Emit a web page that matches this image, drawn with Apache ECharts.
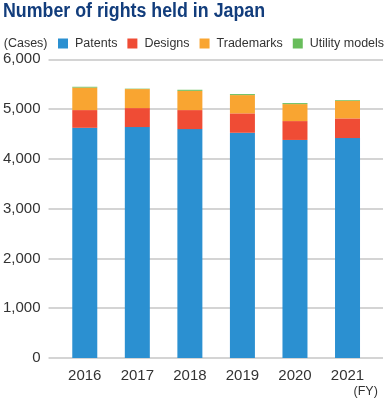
<!DOCTYPE html>
<html>
<head>
<meta charset="utf-8">
<script src="https://cdn.jsdelivr.net/npm/echarts@6/dist/echarts.min.js"></script>
<style>
html,body{margin:0;padding:0;background:#fff;}
#c{width:387px;height:399px;}
</style>
</head>
<body>
<div id="c"></div>
<script>
var years = ['2016', '2017', '2018', '2019', '2020', '2021'];
var patents = [4624, 4639, 4598, 4524, 4380, 4418];
var designs = [356, 381, 382, 390, 379, 395];
var trademarks = [452, 382, 387, 367, 341, 354];
var utilityModels = [16, 8, 21, 20, 20, 14];
var seriesNames = ['Patents', 'Designs', 'Trademarks', 'Utility models'];
var colors = ['#2b90d1', '#ef4c35', '#f9a531', '#68bd5b'];
var titleText = 'Number of rights held in Japan';

var font = 'Liberation Sans, Arial, sans-serif';
var chart = echarts.init(document.getElementById('c'), null, {renderer: 'canvas'});
var dataSets = [patents, designs, trademarks, utilityModels];

var option = {
  animation: false,
  graphic: [{
    type: 'text',
    left: 3,
    top: 1,
    scaleX: 0.89,
    style: {
      text: titleText,
      fontFamily: font,
      fontWeight: 'bold',
      fontSize: 20,
      fill: '#123d7c'
    }
  }],
  legend: {
    data: seriesNames,
    left: 58,
    top: 37,
    padding: 0,
    width: 329,
    itemWidth: 10,
    itemHeight: 10,
    itemGap: 10,
    icon: 'rect',
    textStyle: {fontFamily: font, fontSize: 12.5, color: '#333', padding: [0, 0, 0, 2]}
  },
  grid: [
    {left: 48, right: 4, top: 59.3, bottom: 41},
    {left: 58.5, right: 13.2, top: 59.3, bottom: 41}
  ],
  xAxis: [
    {type: 'value', gridIndex: 0, show: false, min: 0, max: 1},
    {
      type: 'category', gridIndex: 1, data: years,
      axisLine: {show: false}, axisTick: {show: false},
      axisLabel: {fontFamily: font, fontSize: 15, color: '#333', margin: 10},
      name: '(FY)', nameLocation: 'end', nameGap: 4,
      nameTextStyle: {fontFamily: font, fontSize: 12.5, color: '#333', align: 'right', verticalAlign: 'top', padding: [27, 0, 0, 0]}
    }
  ],
  yAxis: [
    {
      type: 'value', gridIndex: 0, min: 0, max: 6000, interval: 1000,
      axisLine: {show: false}, axisTick: {show: false},
      splitLine: {lineStyle: {color: '#c6c6c6', width: 1.6}},
      axisLabel: {fontFamily: font, fontSize: 15, color: '#333', margin: 8,
        formatter: function (v) { return v.toLocaleString('en-US'); }},
      name: '(Cases)', nameLocation: 'end', nameGap: 16,
      nameTextStyle: {fontFamily: font, fontSize: 12.5, color: '#333', align: 'right', verticalAlign: 'middle', padding: [0, 1, 0, 0]}
    },
    {type: 'value', gridIndex: 1, min: 0, max: 6000, show: false}
  ],
  series: seriesNames.map(function (n, i) {
    return {
      name: n, type: 'bar', stack: 'total',
      xAxisIndex: 1, yAxisIndex: 1,
      barWidth: 25,
      itemStyle: {color: colors[i]},
      data: dataSets[i]
    };
  })
};
chart.setOption(option);
</script>
</body>
</html>
